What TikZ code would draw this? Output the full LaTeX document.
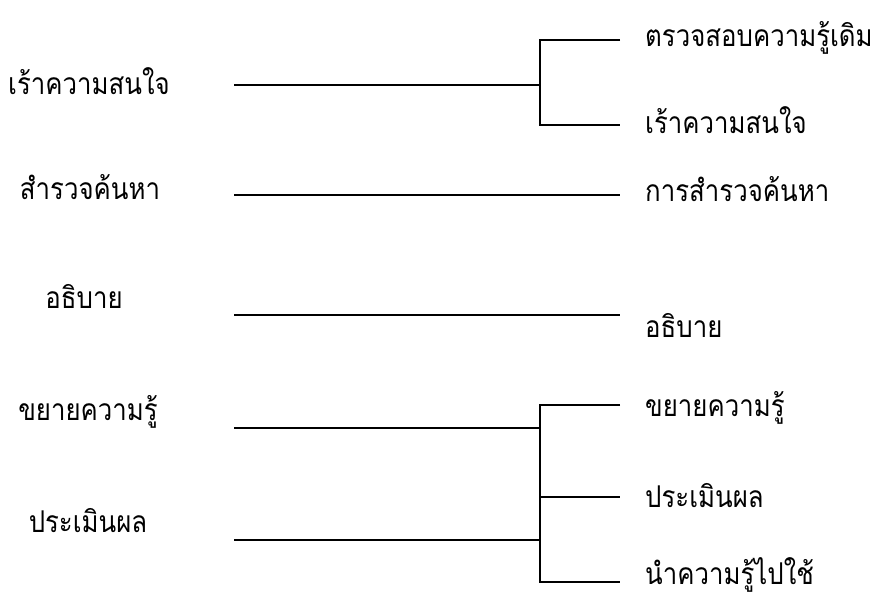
\documentclass[tikz,border=0pt]{standalone}
\usepackage{fontspec}
\newfontfamily\thaifont[Script=Thai,FakeStretch=0.86]{Loma}
\begin{document}
\begin{tikzpicture}[x=1pt,y=-1pt,
  lab/.style={font=\thaifont\fontsize{30}{34}\selectfont, inner sep=0pt},
  leftlab/.style={lab, anchor=base},
  rightlab/.style={lab, anchor=base west},
  conn/.style={line width=1.2pt, black}]
\useasboundingbox (0,0) rectangle (892,599);
% left labels
\node[leftlab] (l1) at (89,95) {เร้าความสนใจ};
\node[leftlab] (l2) at (90,200) {สำรวจค้นหา};
\node[leftlab] (l3) at (84,308) {อธิบาย};
\node[leftlab] (l4) at (88,420) {ขยายความรู้};
\node[leftlab] (l5) at (88,532) {ประเมินผล};
% right labels
\node[rightlab] (r1) at (645,47) {ตรวจสอบความรู้เดิม};
\node[rightlab] (r2) at (645,134) {เร้าความสนใจ};
\node[rightlab] (r3) at (645,201) {การสำรวจค้นหา};
\node[rightlab] (r4) at (645,337) {อธิบาย};
\node[rightlab] (r5) at (645,416) {ขยายความรู้};
\node[rightlab] (r6) at (645,507) {ประเมินผล};
\node[rightlab] (r7) at (645,584) {นำความรู้ไปใช้};
% connector points
\coordinate (a1) at (234,85);
\coordinate (b1) at (540,85);
\coordinate (t1) at (540,40);
\coordinate (t2) at (540,125);
\coordinate (e1) at (620,40);
\coordinate (e2) at (620,125);
\coordinate (a2) at (234,195);
\coordinate (e3) at (620,195);
\coordinate (a3) at (234,315);
\coordinate (e4) at (620,315);
\coordinate (a4) at (234,428);
\coordinate (b4) at (540,428);
\coordinate (a5) at (234,540);
\coordinate (b5) at (540,540);
\coordinate (t3) at (540,405);
\coordinate (t4) at (540,497);
\coordinate (t5) at (540,582);
\coordinate (e5) at (620,405);
\coordinate (e6) at (620,497);
\coordinate (e7) at (620,582);
% connectors
\draw[conn] (a1) -- (b1);
\draw[conn] (e1) -- (t1) -- (t2) -- (e2);
\draw[conn] (a2) -- (e3);
\draw[conn] (a3) -- (e4);
\draw[conn] (a4) -- (b4);
\draw[conn] (a5) -- (b5);
\draw[conn] (e5) -- (t3) -- (t5) -- (e7);
\draw[conn] (t4) -- (e6);
\end{tikzpicture}
\end{document}
